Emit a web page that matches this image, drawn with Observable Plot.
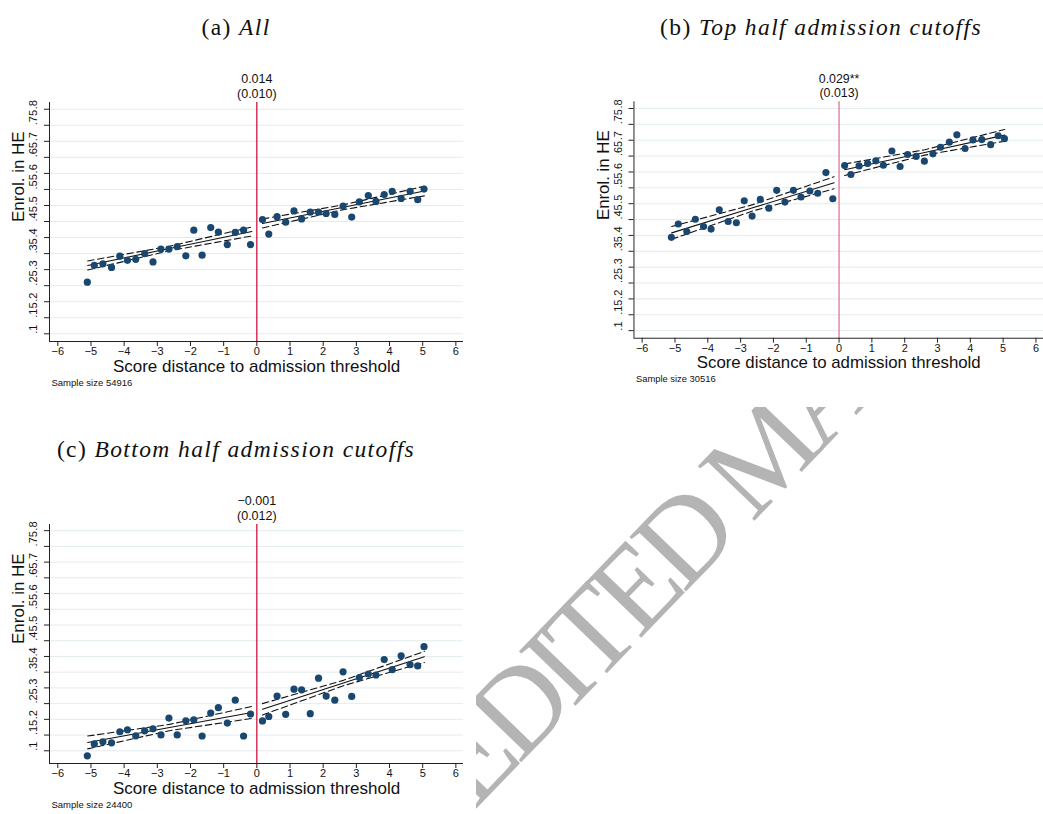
<!DOCTYPE html>
<html><head><meta charset="utf-8">
<script src="https://cdn.jsdelivr.net/npm/d3@7"></script>
<script src="https://cdn.jsdelivr.net/npm/@observablehq/plot@0.6"></script>
<style>
html,body{margin:0;padding:0;background:#fff;overflow:hidden;}
#page{position:relative;width:1043px;height:814px;overflow:hidden;background:#fff;}
.title{position:absolute;font-family:"Liberation Serif","Times New Roman",serif;font-size:23.5px;color:#111;white-space:nowrap;transform:translate(-50%,-50%);letter-spacing:1.4px;}
.panel{position:absolute;}
#wm{position:absolute;left:476px;top:407px;width:567px;height:407px;overflow:hidden;}
</style></head>
<body><div id="page"></div>
<script>
// ---- data ----
const bins = [-5.11,-4.9,-4.64,-4.38,-4.13,-3.9,-3.65,-3.38,-3.13,-2.89,-2.65,-2.4,-2.14,-1.9,-1.65,-1.39,-1.16,-0.89,-0.65,-0.4,-0.19,
              0.17,0.36,0.61,0.87,1.12,1.35,1.61,1.86,2.09,2.35,2.6,2.86,3.09,3.36,3.59,3.84,4.08,4.35,4.62,4.85,5.04];
const allY = [0.261,0.3135,0.318,0.307,0.342,0.329,0.332,0.35,0.324,0.364,0.364,0.372,0.343,0.423,0.345,0.431,0.417,0.378,0.416,0.423,0.378,
              0.456,0.411,0.465,0.448,0.483,0.458,0.479,0.479,0.475,0.472,0.498,0.464,0.511,0.531,0.5125,0.534,0.544,0.522,0.544,0.518,0.551];
const topY = [0.394,0.436,0.4125,0.451,0.428,0.42,0.481,0.444,0.44,0.509,0.461,0.5135,0.486,0.542,0.505,0.542,0.521,0.54,0.533,0.598,0.5156,
              0.62,0.592,0.619,0.627,0.635,0.621,0.666,0.617,0.655,0.649,0.634,0.657,0.678,0.694,0.717,0.674,0.701,0.702,0.686,0.714,0.705];
const bottomY = [0.084,0.122,0.1285,0.1255,0.1605,0.167,0.1475,0.1635,0.17,0.1505,0.204,0.1505,0.1955,0.1985,0.147,0.22,0.237,0.188,0.261,0.147,0.217,
                 0.195,0.209,0.274,0.216,0.296,0.294,0.218,0.331,0.274,0.261,0.351,0.273,0.333,0.344,0.341,0.39,0.358,0.402,0.374,0.37,0.431];

const fitX = [-5.1,-2.63,-0.15, 0.17,2.61,5.05];
const fitSide = ["L","L","L","R","R","R"];
const aFit = [0.313,0.366,0.419, 0.444,0.4945,0.545];
const aHi  = [0.327,0.373,0.433, 0.458,0.502,0.56];
const aLo  = [0.299,0.359,0.405, 0.43,0.487,0.53];
const bFit = [0.408,0.487,0.566, 0.607,0.6615,0.716];
const bHi  = [0.428,0.497,0.585, 0.625,0.67,0.734];
const bLo  = [0.388,0.477,0.547, 0.589,0.653,0.697];
const cFit = [0.1265,0.174,0.222, 0.232,0.3155,0.399];
const cHi  = [0.147,0.184,0.241, 0.25,0.324,0.416];
const cLo  = [0.106,0.164,0.203, 0.214,0.307,0.381];

const xTicks = [-6,-5,-4,-3,-2,-1,0,1,2,3,4,5,6];
const yTicks = [0.1,0.15,0.2,0.25,0.3,0.35,0.4,0.45,0.5,0.55,0.6,0.65,0.7,0.75,0.8];
const yTickLabels = [".1",".15",".2",".25",".3",".35",".4",".45",".5",".55",".6",".65",".7",".75",".8"];
const estimates = ["0.014","0.029**","\u22120.001"];
const stdErrors = ["(0.010)","(0.013)","(0.012)"];
const sampleSizes = [54916, 30516, 24400];
const titles = [["(a) ","All"],["(b) ","Top half admission cutoffs"],["(c) ","Bottom half admission cutoffs"]];
const xTitle = "Score distance to admission threshold";
const yTitle = "Enrol. in HE";
const watermark = "EDITED MA";

// ---- drawing ----
const FONT = '"Liberation Sans", Arial, Helvetica, sans-serif';
const xDomain = [-6.25, 6.23];

function panel(ys, fit, hi, lo, k, yDomain, redColor) {
  const pts = bins.map((x, i) => ({x, y: ys[i]}));
  const rows = (arr) => fitX.map((x, i) => ({x, y: arr[i], side: fitSide[i]}));
  return Plot.plot({
    width: 463, height: 350,
    marginLeft: 49, marginRight: 0, marginTop: 62, marginBottom: 49,
    x: {domain: xDomain},
    y: {domain: yDomain},
    style: {fontFamily: FONT, fontSize: "11px", color: "#111", background: "transparent", overflow: "visible"},
    marks: [
      Plot.gridY(yTicks, {stroke: "#e3ecee", strokeOpacity: 1, strokeWidth: 1}),
      Plot.ruleX([0], {stroke: redColor, strokeWidth: 1.2}),
      Plot.line(rows(hi), {x: "x", y: "y", z: "side", stroke: "#111", strokeWidth: 1.1, strokeDasharray: "6.5,3.5"}),
      Plot.line(rows(lo), {x: "x", y: "y", z: "side", stroke: "#111", strokeWidth: 1.1, strokeDasharray: "6.5,3.5"}),
      Plot.line(rows(fit), {x: "x", y: "y", z: "side", stroke: "#111", strokeWidth: 1.1}),
      Plot.dot(pts, {x: "x", y: "y", r: 3.6, fill: "#1a476f", stroke: "none"}),
      Plot.ruleY([yDomain[0]], {stroke: "#222", strokeWidth: 1}),
      Plot.ruleX([xDomain[0]], {stroke: "#222", strokeWidth: 1}),
      Plot.axisX(xTicks, {tickSize: 5, tickPadding: 1, fontSize: 11, label: null, stroke: "#222"}),
      Plot.axisY(yTicks, {tickSize: 5, tickFormat: () => "", label: null, stroke: "#222"}),
      Plot.text(yTicks, {y: d => d, text: (d, i) => yTickLabels[i], frameAnchor: "left", dx: -16, rotate: -90, fontSize: 11, fill: "#111"}),
      Plot.text([yTitle], {text: d => d, frameAnchor: "left", dx: -31, rotate: -90, fontSize: 17, fill: "#111"}),
      Plot.text([xTitle], {text: d => d, frameAnchor: "bottom", dy: 30, fontSize: 17, fill: "#111"}),
      Plot.text(["Sample size " + sampleSizes[k]], {text: d => d, frameAnchor: "bottom-left", dx: 2, dy: 44, fontSize: 9.5, textAnchor: "start", fill: "#111"}),
      Plot.text([{x: 0, t: estimates[k] + "\n" + stdErrors[k]}], {x: "x", text: "t", frameAnchor: "top", dy: -5, lineAnchor: "bottom", lineHeight: 1.16, fontSize: 12.5, fill: "#111"})
    ]
  });
}

const page = document.getElementById("page");

// watermark (visible only in the empty quadrant)
const wm = document.createElement("div");
wm.id = "wm";
wm.innerHTML = '<svg width="567" height="407"><text x="-2" y="404" transform="rotate(-46 -2 404)" font-family="Liberation Serif, Times New Roman, serif" font-size="120" letter-spacing="-9" fill="#b4b4b4">' + watermark + '</text></svg>';
page.appendChild(wm);

const specs = [
  {ys: allY, fit: aFit, hi: aHi, lo: aLo, dom: [0.076, 0.821], left: 0, top: 40, red: "#c8002e", tx: 236, ty: 27},
  {ys: topY, fit: bFit, hi: bHi, lo: bLo, dom: [0.076, 0.821], left: 585, top: 40, red: "#dd6b86", tx: 821, ty: 27},
  {ys: bottomY, fit: cFit, hi: cHi, lo: cLo, dom: [0.0596, 0.8196], left: 0, top: 462, red: "#c8002e", tx: 236, ty: 449}
];
specs.forEach((s, k) => {
  const svg = panel(s.ys, s.fit, s.hi, s.lo, k, s.dom, s.red);
  const d = document.createElement("div");
  d.className = "panel";
  d.style.left = s.left + "px";
  d.style.top = s.top + "px";
  d.appendChild(svg);
  page.appendChild(d);
  const t = document.createElement("div");
  t.className = "title";
  t.style.left = s.tx + "px";
  t.style.top = s.ty + "px";
  t.innerHTML = titles[k][0] + "<i>" + titles[k][1] + "</i>";
  page.appendChild(t);
});
</script>
</body></html>
